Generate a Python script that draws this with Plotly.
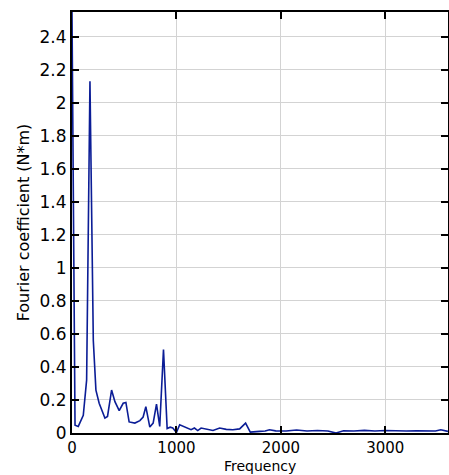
import plotly.graph_objects as go

freq = [0, 29, 60, 108, 140, 172, 204, 229, 260, 315, 340, 379, 411, 452, 490, 516, 547, 602, 650, 681, 707, 745, 777, 809, 840, 876, 911, 940, 965, 1000, 1031, 1063, 1095, 1140, 1172, 1204, 1236, 1290, 1350, 1414, 1477, 1540, 1605, 1662, 1707, 1796, 1850, 1891, 1950, 2050, 2150, 2250, 2350, 2450, 2528, 2600, 2700, 2800, 2900, 3000, 3100, 3200, 3300, 3400, 3480, 3531, 3600]
coef = [2.55, 0.047, 0.04, 0.107, 0.32, 2.13, 0.56, 0.26, 0.18, 0.09, 0.1, 0.26, 0.19, 0.135, 0.18, 0.185, 0.067, 0.06, 0.075, 0.097, 0.16, 0.036, 0.06, 0.175, 0.04, 0.506, 0.027, 0.035, 0.03, 0.003, 0.05, 0.04, 0.03, 0.02, 0.03, 0.015, 0.03, 0.025, 0.015, 0.03, 0.022, 0.02, 0.025, 0.06, 0.005, 0.01, 0.012, 0.02, 0.013, 0.012, 0.018, 0.012, 0.015, 0.012, 0.0, 0.014, 0.012, 0.016, 0.012, 0.015, 0.013, 0.012, 0.014, 0.012, 0.012, 0.02, 0.01]

x_ticks = [0, 1000, 2000, 3000]
y_ticks = [0, 0.2, 0.4, 0.6, 0.8, 1, 1.2, 1.4, 1.6, 1.8, 2, 2.2, 2.4]

fig = go.Figure()
fig.add_trace(go.Scatter(x=freq, y=coef, mode="lines",
                         line=dict(color="#0b1d96", width=1.6)))

font = dict(family="DejaVu Sans", size=16, color="black")
fig.update_layout(
    width=449, height=475,
    margin=dict(l=72, r=1, t=12, b=42, autoexpand=False),
    paper_bgcolor="white", plot_bgcolor="white",
    showlegend=False,
    font=font,
)
fig.add_annotation(text="Frequency", xref="paper", yref="paper",
                   x=0.5, y=-0.058, xanchor="center", yanchor="top",
                   showarrow=False, borderpad=0, font=dict(size=14))
fig.update_xaxes(
    range=[0, 3600], tickvals=x_ticks, ticktext=[str(v) for v in x_ticks],
    showgrid=True, gridcolor="#d3d3d3", gridwidth=1,
    showline=True, linecolor="black", linewidth=2, mirror="ticks",
    ticks="inside", ticklen=7, tickcolor="black", tickwidth=1.5,
    zeroline=False, automargin=False,
    tickfont=dict(size=15),
)
fig.update_yaxes(
    range=[0, 2.55], tickvals=y_ticks, ticktext=[f"{v:g}" for v in y_ticks],
    showgrid=True, gridcolor="#d3d3d3", gridwidth=1,
    showline=True, linecolor="black", linewidth=2, mirror="ticks",
    ticks="inside", ticklen=7, tickcolor="black", tickwidth=1.5,
    zeroline=False, automargin=False,
    title=dict(text="Fourier coefficient (N*m)", standoff=6, font=dict(size=16)),
    tickfont=dict(size=17),
)
fig.write_html("out.html", config={"displayModeBar": False},
               post_script="document.body.style.margin='0';document.body.style.overflow='hidden';")
